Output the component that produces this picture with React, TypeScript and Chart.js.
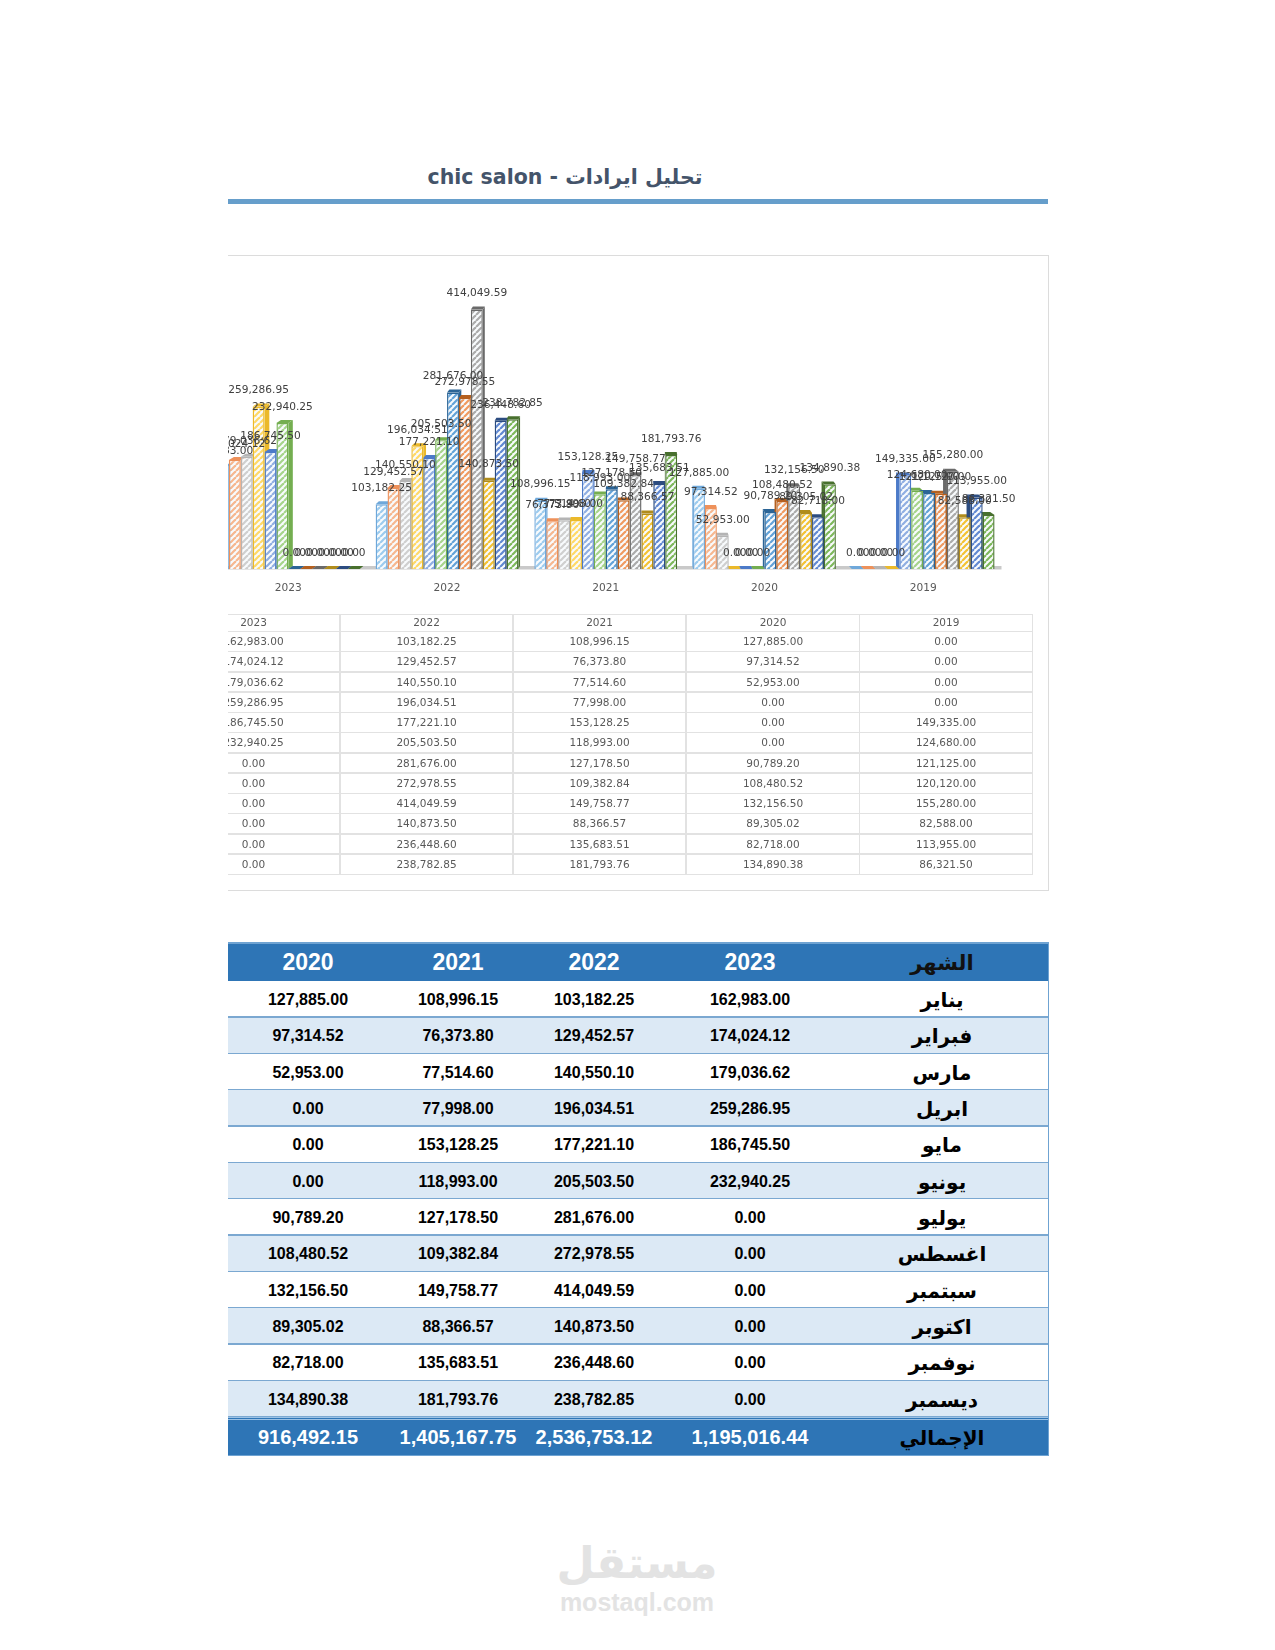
import React, { useEffect, useRef } from "react";
import Chart from "chart.js/auto";

const years = ["2023", "2022", "2021", "2020", "2019"];
const months = ["يناير", "فبراير", "مارس", "ابريل", "مايو", "يونيو", "يوليو", "اغسطس", "سبتمبر", "اكتوبر", "نوفمبر", "ديسمبر"];
const values2023 = [162983.0, 174024.12, 179036.62, 259286.95, 186745.5, 232940.25, 0, 0, 0, 0, 0, 0];
const values2022 = [103182.25, 129452.57, 140550.1, 196034.51, 177221.1, 205503.5, 281676.0, 272978.55, 414049.59, 140873.5, 236448.6, 238782.85];
const values2021 = [108996.15, 76373.8, 77514.6, 77998.0, 153128.25, 118993.0, 127178.5, 109382.84, 149758.77, 88366.57, 135683.51, 181793.76];
const values2020 = [127885.0, 97314.52, 52953.0, 0, 0, 0, 90789.2, 108480.52, 132156.5, 89305.02, 82718.0, 134890.38];
const values2019 = [0, 0, 0, 0, 149335.0, 124680.0, 121125.0, 120120.0, 155280.0, 82588.0, 113955.0, 86321.5];
const totals = ["1,195,016.44", "2,536,753.12", "1,405,167.75", "916,492.15"];
const edgeColors = ["#6FA8DA", "#EE915A", "#B4B4B4", "#EBB92A", "#4C7AC8", "#74AE50", "#2B6496", "#B5601F", "#6A6A6A", "#B08C1C", "#2C4C80", "#48702E"];
const hatchColors = ["#9CCBEE", "#F6B78F", "#CFCFCF", "#FFD966", "#8FAEE2", "#A6D48A", "#62A2D8", "#F09A60", "#ABABAB", "#F4C232", "#6088D2", "#7DB85A"];
const allYears = [values2023, values2022, values2021, values2020, values2019];

const fmt = (v: number) => v.toLocaleString("en-US", { minimumFractionDigits: 2, maximumFractionDigits: 2 });

function hatch(color: string) {
  const s = 6;
  const c = document.createElement("canvas");
  c.width = s;
  c.height = s;
  const x = c.getContext("2d")!;
  x.fillStyle = "#f8fbfd";
  x.fillRect(0, 0, s, s);
  x.strokeStyle = color;
  x.lineWidth = 2.2;
  for (const o of [-s, 0, s]) {
    x.beginPath();
    x.moveTo(o, s);
    x.lineTo(o + s, 0);
    x.stroke();
  }
  return x.createPattern(c, "repeat")!;
}

const DEPTH = 3;
const VANISH_X = 440;
const PERSPECTIVE = 0.0125;

const threeD = {
  id: "threeD",
  beforeDatasetsDraw(chart: any) {
    const { ctx, chartArea: a } = chart;
    ctx.save();
    ctx.fillStyle = "#c9c9c9";
    ctx.fillRect(a.left, a.bottom - 3, a.right - a.left - 1, 3.5);
    chart.data.datasets.forEach((_: any, i: number) => {
      ctx.fillStyle = edgeColors[i];
      for (const el of chart.getDatasetMeta(i).data) {
        const { x, y, base, width } = el;
        const l = x - width / 2;
        const r = x + width / 2;
        const dx = (VANISH_X - x) * PERSPECTIVE;
        ctx.beginPath();
        ctx.moveTo(l, y);
        ctx.lineTo(l + dx, y - DEPTH);
        ctx.lineTo(r + dx, y - DEPTH);
        ctx.lineTo(r, y);
        ctx.closePath();
        ctx.fill();
        if (y < base) {
          const sx = dx > 0 ? r : l;
          ctx.beginPath();
          ctx.moveTo(sx, y);
          ctx.lineTo(sx + dx, y - DEPTH);
          ctx.lineTo(sx + dx, base - DEPTH);
          ctx.lineTo(sx, base);
          ctx.closePath();
          ctx.fill();
        }
      }
    });
    ctx.restore();
  },
  afterDatasetsDraw(chart: any) {
    const { ctx } = chart;
    ctx.save();
    ctx.font = "10.6px 'DejaVu Sans'";
    ctx.fillStyle = "#404040";
    ctx.textAlign = "center";
    ctx.textBaseline = "middle";
    chart.data.datasets.forEach((ds: any, i: number) => {
      chart.getDatasetMeta(i).data.forEach((el: any, j: number) => {
        ctx.fillText(fmt(ds.data[j]), el.x, el.y - 16);
      });
    });
    ctx.restore();
  },
};

const font = "'Liberation Sans', Arial, sans-serif";
const arabic = "'DejaVu Sans', sans-serif";

function abs(left: number, top: number, width: number, height: number, extra: React.CSSProperties = {}): React.CSSProperties {
  return { position: "absolute", left, top, width, height, boxSizing: "border-box", ...extra };
}

const dataColLefts = [167, 340, 513, 686.5, 859.5];
const dataRowH = 20.25;

function DataTable() {
  const cols = dataColLefts.map((left, c) => (
    <React.Fragment key={c}>
      <div style={abs(left - 228, 614 - 255, 173, 17, { textAlign: "center", lineHeight: "17px" })}>{years[c]}</div>
      {allYears[c].map((v, r) => (
        <div key={r} style={abs(left - 228, 631 - 255 + r * dataRowH, 173, dataRowH, { textAlign: "center", lineHeight: dataRowH + "px" })}>
          {fmt(v)}
        </div>
      ))}
      <div style={abs(left - 228 + 172, 614 - 255, 1.5, 260, { background: "#e2e2e2" })} />
    </React.Fragment>
  ));
  const lines = [0, ...Array.from({ length: 13 }, (_, i) => 17 + i * dataRowH)].map((y, i) => (
    <div key={i} style={abs(0, 614 - 255 + y - 0.5, 1032.5 - 228, 1.5, { background: "#e2e2e2" })} />
  ));
  return (
    <div style={{ position: "absolute", inset: 0, font: "10.5px 'DejaVu Sans'", color: "#595959" }}>
      {lines}
      {cols}
    </div>
  );
}

const mainCenters = [750, 594, 458, 308];
const mainRowH = 36.33;

function MainTable() {
  const cell = (cx: number, text: string, style: React.CSSProperties) => (
    <div style={{ position: "absolute", left: cx - 228 - 90, width: 180, top: 0, bottom: 0, display: "flex", alignItems: "center", justifyContent: "center", whiteSpace: "nowrap", ...style }}>
      {text}
    </div>
  );
  return (
    <div style={abs(228, 942, 821, 514, { overflow: "hidden" })}>
      <div style={abs(0, 0, 821, 39, { background: "#2E75B6", borderTop: "2px solid #6FA3D2" })}>
        {cell(942, "الشهر", { font: `bold 21px ${arabic}`, color: "#111" })}
        {mainCenters.map((cx, i) => cell(cx, years[i], { font: `bold 23px ${font}`, color: "#fff" }))}
      </div>
      {months.map((m, r) => (
        <div key={r} style={abs(0, 39 + r * mainRowH, 821, mainRowH, { background: r % 2 ? "#DCE9F5" : "#fff", paddingTop: 2 })}>
          <div style={{ position: "absolute", left: 0, right: 0, top: 2, bottom: 0 }}>
            {cell(942, m, { font: `bold 20px ${arabic}`, color: "#000", direction: "rtl" })}
            {mainCenters.map((cx, i) => cell(cx, fmt(allYears[i][r]), { font: `bold 16px ${font}`, color: "#000" }))}
          </div>
        </div>
      ))}
      {months.map((_, r) => (
        <div key={r} style={abs(0, 39 + (r + 1) * mainRowH - 1, 821, 1.5, { background: "#7BA8D1" })} />
      ))}
      <div style={abs(0, 475, 821, 39, { background: "#2E75B6", borderTop: "3px double #9CC2E5", borderBottom: "1.5px solid #6FA3D2" })}>
        {cell(942, "الإجمالي", { font: `bold 20px ${arabic}`, color: "#000", direction: "rtl" })}
        {mainCenters.map((cx, i) => cell(cx, totals[i], { font: `bold 20px ${font}`, color: "#fff" }))}
      </div>
      <div style={abs(819.5, 0, 1.5, 514, { background: "#6FA3D2" })} />
    </div>
  );
}

export default function App() {
  const ref = useRef<HTMLCanvasElement>(null);
  useEffect(() => {
    const chart = new Chart(ref.current!, {
      type: "bar",
      data: {
        labels: years,
        datasets: months.map((m, i) => ({
          label: m,
          data: allYears.map((y) => y[i]),
          backgroundColor: hatch(hatchColors[i]),
          borderColor: edgeColors[i],
          borderWidth: 1.4,
          barPercentage: 1,
          categoryPercentage: 0.9,
        })),
      },
      options: {
        responsive: false,
        animation: false,
        layout: { padding: { left: 9, right: 45.5, top: 32, bottom: 0 } },
        plugins: { legend: { display: false }, tooltip: { enabled: false }, title: { display: false } },
        scales: {
          x: {
            grid: { display: false },
            border: { display: false },
            ticks: { color: "#595959", font: { family: "'DejaVu Sans'", size: 10.6 }, padding: 5 },
            afterFit: (s: any) => {
              s.height = 26;
            },
          },
          y: { display: false, min: 0, max: 450000 },
        },
      },
      plugins: [threeD],
    } as any);
    return () => chart.destroy();
  }, []);

  return (
    <div style={{ position: "absolute", left: 0, top: 0, width: 1275, height: 1650, background: "#fff", overflow: "hidden" }}>
      <div dir="rtl" style={{ position: "absolute", left: 365, width: 400, top: 165, textAlign: "center", font: `bold 20.5px ${arabic}`, color: "#44546A", whiteSpace: "nowrap" }}>
        تحليل ايرادات - chic salon
      </div>
      <div style={abs(228, 199, 820, 4.5, { background: "#669ECB" })} />
      <div style={abs(228, 255, 821, 636, { border: "1px solid #dcdcdc", borderLeft: "none", overflow: "hidden" })}>
        <canvas ref={ref} width={848} height={340} style={{ position: "absolute", left: -28, top: -1, display: "block" }} />
        <div style={{ position: "absolute", left: 0, top: -1, width: 820, height: 636 }}>
          <DataTable />
        </div>
      </div>
      <MainTable />
      <div dir="rtl" style={{ position: "absolute", left: 537, width: 200, top: 1538, textAlign: "center", font: `bold 44px ${arabic}`, color: "#e3e3e3", lineHeight: "50px" }}>
        مستقل
      </div>
      <div style={{ position: "absolute", left: 537, width: 200, top: 1589, textAlign: "center", font: `bold 25px ${font}`, color: "#e3e3e3", lineHeight: "26px" }}>
        mostaql.com
      </div>
    </div>
  );
}
